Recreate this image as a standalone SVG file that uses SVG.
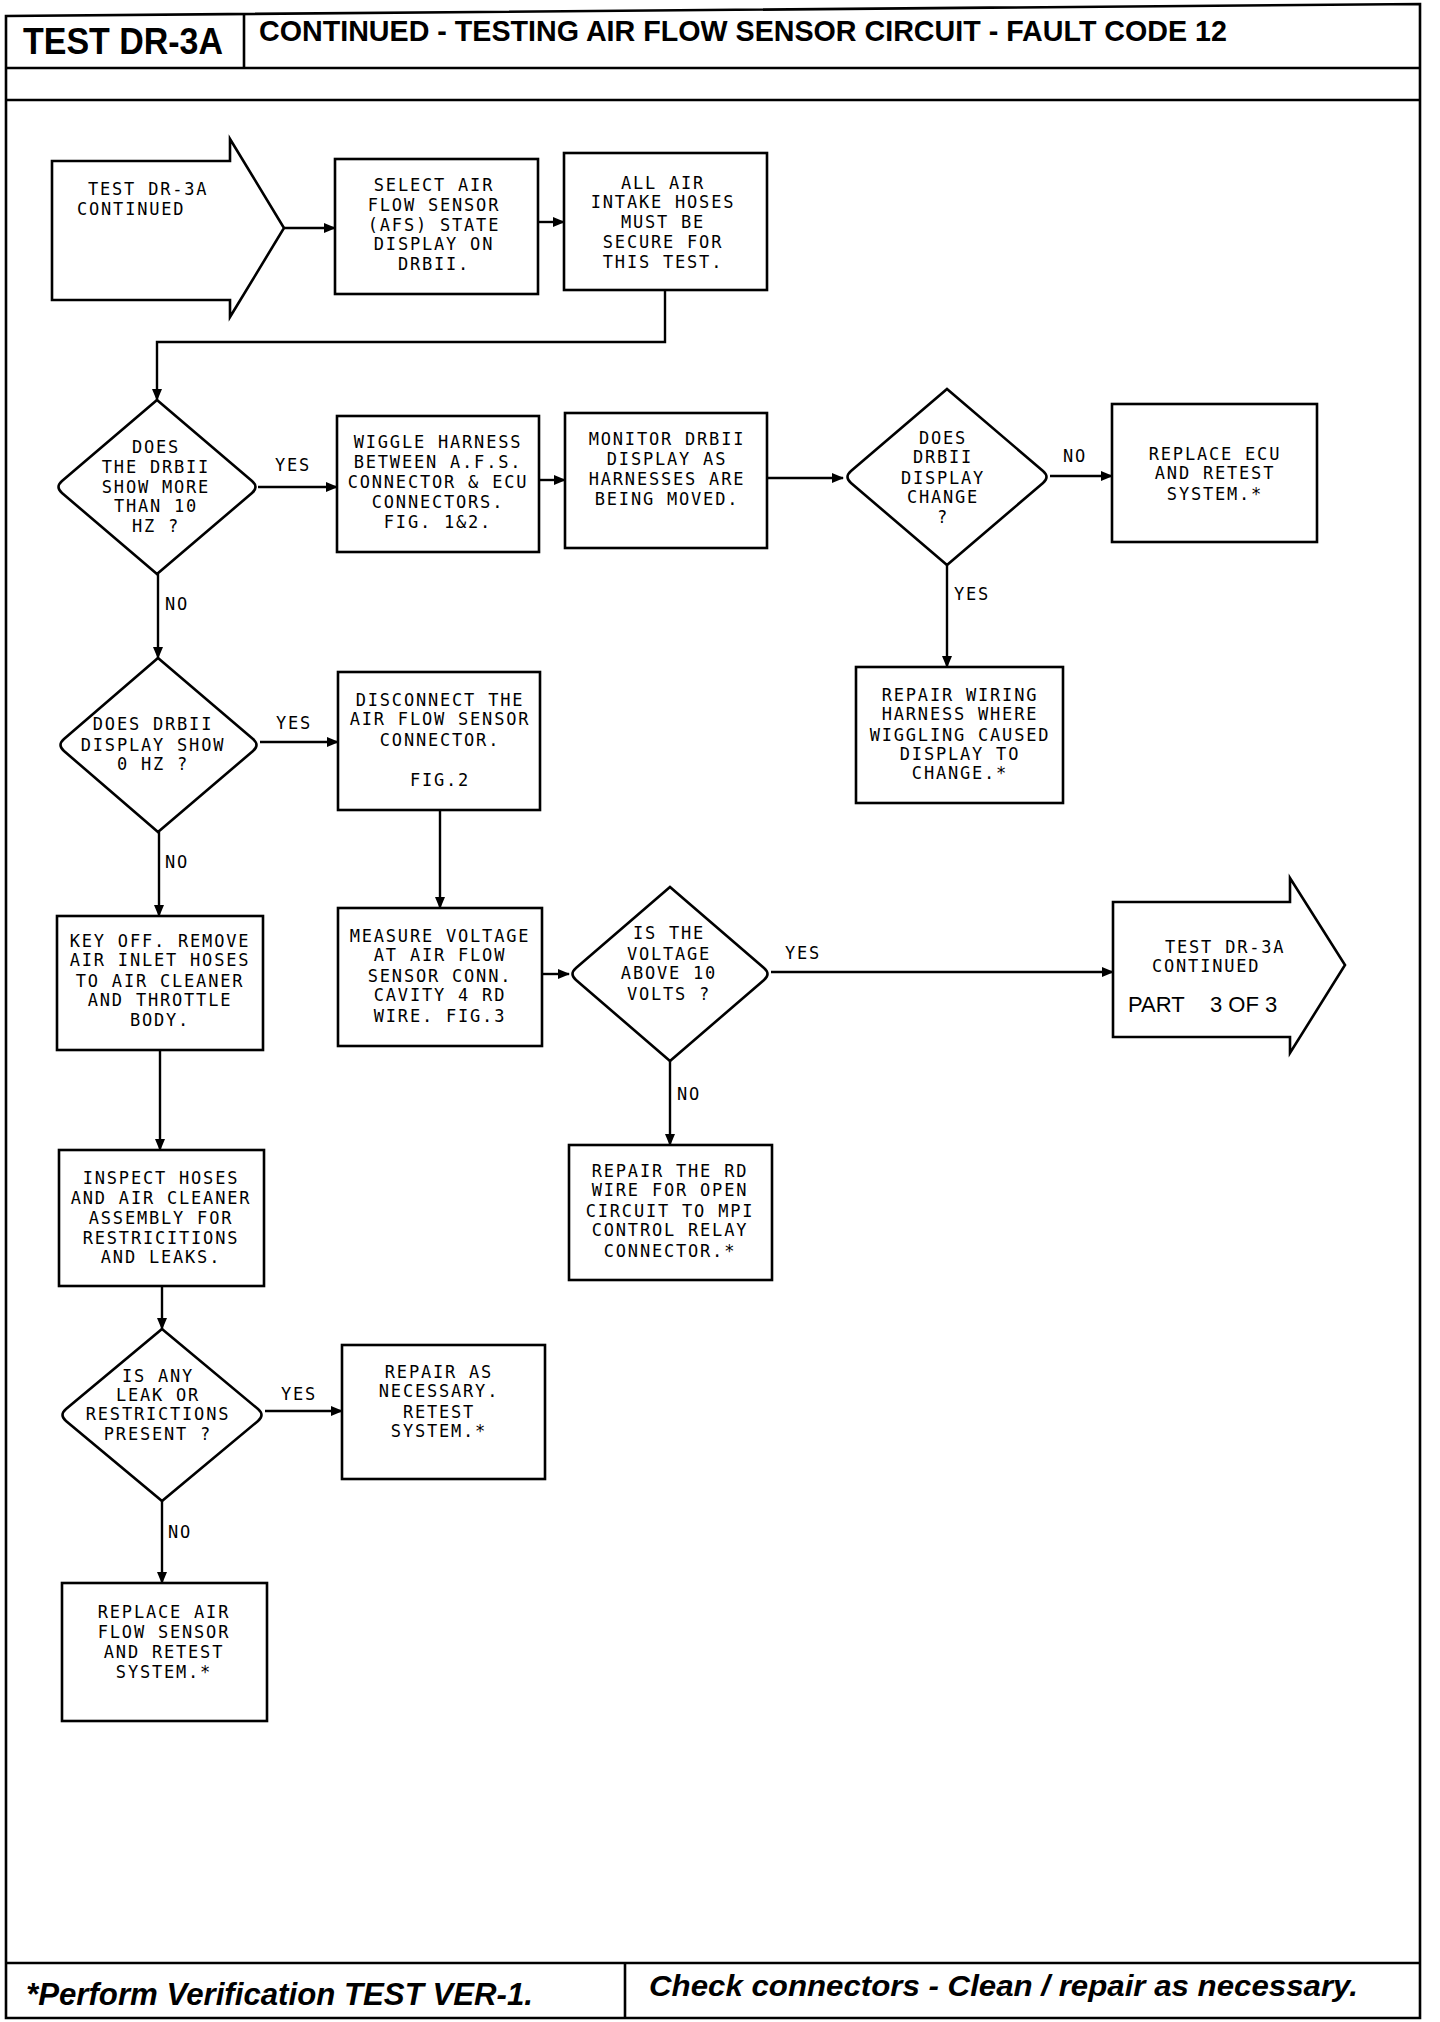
<svg xmlns="http://www.w3.org/2000/svg" width="1440" height="2022" viewBox="0 0 1440 2022">
<style>
.frame{fill:none;stroke:#000;stroke-width:2.6}
.box{fill:#fff;stroke:#000;stroke-width:2.6}
.c{fill:none;stroke:#000;stroke-width:2.4}
.t{font-family:"DejaVu Sans Mono","Liberation Mono",monospace;font-size:17px;letter-spacing:1.8px;fill:#000;text-anchor:middle}
.l{font-family:"DejaVu Sans Mono","Liberation Mono",monospace;font-size:17px;letter-spacing:1.8px;fill:#000}
.h{font-family:"Liberation Sans",Arial,sans-serif;font-weight:bold;fill:#000}
.f{font-family:"Liberation Sans",Arial,sans-serif;font-weight:bold;font-style:italic;fill:#000}
.p{font-family:"Liberation Sans",Arial,sans-serif;font-size:22px;fill:#000}
</style>
<defs>
<marker id="ah" markerUnits="userSpaceOnUse" markerWidth="12" markerHeight="10" refX="11" refY="5" orient="auto">
<path d="M0,0 L12,5 L0,10 Z" fill="#000"/>
</marker>
</defs>
<rect width="1440" height="2022" fill="#fff"/>
<g id="frame">
<path class="frame" d="M6,16 L1420,4 L1420,2018 L6,2018 Z"/>
<line class="frame" x1="244" y1="14" x2="244" y2="68"/>
<line class="frame" x1="6" y1="68" x2="1420" y2="68"/>
<line class="frame" x1="6" y1="100" x2="1420" y2="100"/>
<line class="frame" x1="6" y1="1963" x2="1420" y2="1963"/>
<line class="frame" x1="625" y1="1963" x2="625" y2="2018"/>
<text class="h" x="23" y="54" font-size="36" textLength="200" lengthAdjust="spacingAndGlyphs">TEST DR-3A</text>
<text class="h" x="259" y="41" font-size="30" textLength="968" lengthAdjust="spacingAndGlyphs">CONTINUED -  TESTING AIR FLOW SENSOR CIRCUIT - FAULT CODE 12</text>
<text class="f" x="26" y="2005" font-size="31" textLength="507" lengthAdjust="spacingAndGlyphs">*Perform Verification TEST VER-1.</text>
<text class="f" x="649" y="1996" font-size="30" textLength="709" lengthAdjust="spacingAndGlyphs">Check connectors - Clean / repair as necessary.</text>
</g>
<g id="connectors">
<line class="c" x1="284" y1="228" x2="335" y2="228" marker-end="url(#ah)"/>
<line class="c" x1="538" y1="222" x2="564" y2="222" marker-end="url(#ah)"/>
<polyline class="c" points="665,290 665,342 157,342 157,400" marker-end="url(#ah)"/>
<line class="c" x1="258" y1="487" x2="337" y2="487" marker-end="url(#ah)"/>
<line class="c" x1="539" y1="480" x2="565" y2="480" marker-end="url(#ah)"/>
<line class="c" x1="767" y1="478" x2="843" y2="478" marker-end="url(#ah)"/>
<line class="c" x1="1050" y1="476" x2="1112" y2="476" marker-end="url(#ah)"/>
<line class="c" x1="947" y1="565" x2="947" y2="667" marker-end="url(#ah)"/>
<line class="c" x1="158" y1="574" x2="158" y2="658" marker-end="url(#ah)"/>
<line class="c" x1="260" y1="742" x2="338" y2="742" marker-end="url(#ah)"/>
<line class="c" x1="440" y1="810" x2="440" y2="908" marker-end="url(#ah)"/>
<line class="c" x1="542" y1="974" x2="569" y2="974" marker-end="url(#ah)"/>
<line class="c" x1="771" y1="972" x2="1113" y2="972" marker-end="url(#ah)"/>
<line class="c" x1="670" y1="1061" x2="670" y2="1145" marker-end="url(#ah)"/>
<line class="c" x1="159" y1="832" x2="159" y2="916" marker-end="url(#ah)"/>
<line class="c" x1="160" y1="1050" x2="160" y2="1150" marker-end="url(#ah)"/>
<line class="c" x1="162" y1="1286" x2="162" y2="1329" marker-end="url(#ah)"/>
<line class="c" x1="265" y1="1411" x2="342" y2="1411" marker-end="url(#ah)"/>
<line class="c" x1="162" y1="1501" x2="162" y2="1583" marker-end="url(#ah)"/>
<text class="l" x="275" y="471">YES</text>
<text class="l" x="165" y="610">NO</text>
<text class="l" x="1063" y="462">NO</text>
<text class="l" x="954" y="600">YES</text>
<text class="l" x="276" y="729">YES</text>
<text class="l" x="165" y="868">NO</text>
<text class="l" x="785" y="959">YES</text>
<text class="l" x="677" y="1100">NO</text>
<text class="l" x="281" y="1400">YES</text>
<text class="l" x="168" y="1538">NO</text>
</g>
<g id="start">
<path class="box" d="M52,161 L230,161 L230,139 L284,228 L230,317 L230,300 L52,300 Z"/>
<text class="l" x="88" y="195">TEST DR-3A</text>
<text class="l" x="77" y="215">CONTINUED</text>
</g>
<g id="select">
<rect class="box" x="335" y="159" width="203" height="135"/>
<text class="t" x="434" y="191">SELECT AIR</text>
<text class="t" x="434" y="211">FLOW SENSOR</text>
<text class="t" x="434" y="231">(AFS) STATE</text>
<text class="t" x="434" y="250">DISPLAY ON</text>
<text class="t" x="434" y="270">DRBII.</text>
</g>
<g id="allair">
<rect class="box" x="564" y="153" width="203" height="137"/>
<text class="t" x="663" y="189">ALL AIR</text>
<text class="t" x="663" y="208">INTAKE HOSES</text>
<text class="t" x="663" y="228">MUST BE</text>
<text class="t" x="663" y="248">SECURE FOR</text>
<text class="t" x="663" y="268">THIS TEST.</text>
</g>
<g id="d1">
<path class="box" d="M157,400 L252,481 Q259,487 252,493 L157,574 L62,493 Q55,487 62,481 Z"/>
<text class="t" x="156" y="453">DOES</text>
<text class="t" x="156" y="473">THE DRBII</text>
<text class="t" x="156" y="493">SHOW MORE</text>
<text class="t" x="156" y="512">THAN 10</text>
<text class="t" x="156" y="532">HZ ?</text>
</g>
<g id="wiggle">
<rect class="box" x="337" y="416" width="202" height="136"/>
<text class="t" x="438" y="448">WIGGLE HARNESS</text>
<text class="t" x="438" y="468">BETWEEN A.F.S.</text>
<text class="t" x="438" y="488">CONNECTOR &amp; ECU</text>
<text class="t" x="438" y="508">CONNECTORS.</text>
<text class="t" x="438" y="528">FIG. 1&amp;2.</text>
</g>
<g id="monitor">
<rect class="box" x="565" y="413" width="202" height="135"/>
<text class="t" x="667" y="445">MONITOR DRBII</text>
<text class="t" x="667" y="465">DISPLAY AS</text>
<text class="t" x="667" y="485">HARNESSES ARE</text>
<text class="t" x="667" y="505">BEING MOVED.</text>
</g>
<g id="d2">
<path class="box" d="M947,389 L1043,471 Q1050,477 1043,483 L947,565 L851,483 Q844,477 851,471 Z"/>
<text class="t" x="943" y="444">DOES</text>
<text class="t" x="943" y="463">DRBII</text>
<text class="t" x="943" y="484">DISPLAY</text>
<text class="t" x="943" y="503">CHANGE</text>
<text class="t" x="943" y="523">?</text>
</g>
<g id="replaceecu">
<rect class="box" x="1112" y="404" width="205" height="138"/>
<text class="t" x="1215" y="460">REPLACE ECU</text>
<text class="t" x="1215" y="479">AND RETEST</text>
<text class="t" x="1215" y="500">SYSTEM.*</text>
</g>
<g id="repairwiring">
<rect class="box" x="856" y="667" width="207" height="136"/>
<text class="t" x="960" y="701">REPAIR WIRING</text>
<text class="t" x="960" y="720">HARNESS WHERE</text>
<text class="t" x="960" y="741">WIGGLING CAUSED</text>
<text class="t" x="960" y="760">DISPLAY TO</text>
<text class="t" x="960" y="779">CHANGE.*</text>
</g>
<g id="d3">
<path class="box" d="M158,658 L253,739 Q260,745 253,751 L158,832 L64,751 Q57,745 64,739 Z"/>
<text class="t" x="153" y="730">DOES DRBII</text>
<text class="t" x="153" y="751">DISPLAY SHOW</text>
<text class="t" x="153" y="770">0 HZ ?</text>
</g>
<g id="disconnect">
<rect class="box" x="338" y="672" width="202" height="138"/>
<text class="t" x="440" y="706">DISCONNECT THE</text>
<text class="t" x="440" y="725">AIR FLOW SENSOR</text>
<text class="t" x="440" y="746">CONNECTOR.</text>
<text class="t" x="440" y="786">FIG.2</text>
</g>
<g id="measure">
<rect class="box" x="338" y="908" width="204" height="138"/>
<text class="t" x="440" y="942">MEASURE VOLTAGE</text>
<text class="t" x="440" y="961">AT AIR FLOW</text>
<text class="t" x="440" y="982">SENSOR CONN.</text>
<text class="t" x="440" y="1001">CAVITY 4 RD</text>
<text class="t" x="440" y="1022">WIRE. FIG.3</text>
</g>
<g id="d4">
<path class="box" d="M670,887 L764,968 Q771,974 764,980 L670,1061 L576,980 Q569,974 576,968 Z"/>
<text class="t" x="669" y="939">IS THE</text>
<text class="t" x="669" y="960">VOLTAGE</text>
<text class="t" x="669" y="979">ABOVE 10</text>
<text class="t" x="669" y="1000">VOLTS ?</text>
</g>
<g id="end">
<path class="box" d="M1113,902 L1290,902 L1290,878 L1345,965 L1290,1053 L1290,1037 L1113,1037 Z"/>
<text class="l" x="1165" y="953">TEST DR-3A</text>
<text class="l" x="1152" y="972">CONTINUED</text>
<text class="p" x="1128" y="1012">PART</text>
<text class="p" x="1210" y="1012">3 OF 3</text>
</g>
<g id="repairrd">
<rect class="box" x="569" y="1145" width="203" height="135"/>
<text class="t" x="670" y="1177">REPAIR THE RD</text>
<text class="t" x="670" y="1196">WIRE FOR OPEN</text>
<text class="t" x="670" y="1217">CIRCUIT TO MPI</text>
<text class="t" x="670" y="1236">CONTROL RELAY</text>
<text class="t" x="670" y="1257">CONNECTOR.*</text>
</g>
<g id="keyoff">
<rect class="box" x="57" y="916" width="206" height="134"/>
<text class="t" x="160" y="947">KEY OFF. REMOVE</text>
<text class="t" x="160" y="966">AIR INLET HOSES</text>
<text class="t" x="160" y="987">TO AIR CLEANER</text>
<text class="t" x="160" y="1006">AND THROTTLE</text>
<text class="t" x="160" y="1026">BODY.</text>
</g>
<g id="inspect">
<rect class="box" x="59" y="1150" width="205" height="136"/>
<text class="t" x="161" y="1184">INSPECT HOSES</text>
<text class="t" x="161" y="1204">AND AIR CLEANER</text>
<text class="t" x="161" y="1224">ASSEMBLY FOR</text>
<text class="t" x="161" y="1244">RESTRICITIONS</text>
<text class="t" x="161" y="1263">AND LEAKS.</text>
</g>
<g id="d5">
<path class="box" d="M162,1329 L258,1409 Q265,1415 258,1421 L162,1501 L66,1421 Q59,1415 66,1409 Z"/>
<text class="t" x="158" y="1382">IS ANY</text>
<text class="t" x="158" y="1401">LEAK OR</text>
<text class="t" x="158" y="1420">RESTRICTIONS</text>
<text class="t" x="158" y="1440">PRESENT ?</text>
</g>
<g id="repairas">
<rect class="box" x="342" y="1345" width="203" height="134"/>
<text class="t" x="439" y="1378">REPAIR AS</text>
<text class="t" x="439" y="1397">NECESSARY.</text>
<text class="t" x="439" y="1418">RETEST</text>
<text class="t" x="439" y="1437">SYSTEM.*</text>
</g>
<g id="replaceair">
<rect class="box" x="62" y="1583" width="205" height="138"/>
<text class="t" x="164" y="1618">REPLACE AIR</text>
<text class="t" x="164" y="1638">FLOW SENSOR</text>
<text class="t" x="164" y="1658">AND RETEST</text>
<text class="t" x="164" y="1678">SYSTEM.*</text>
</g>
</svg>
